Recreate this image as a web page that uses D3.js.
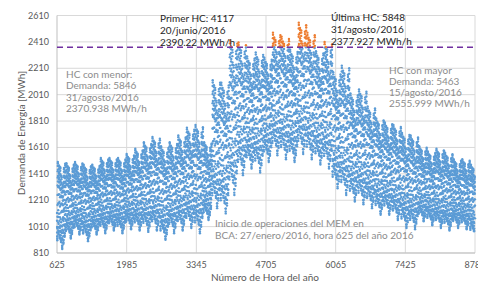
<!DOCTYPE html>
<html>
<head>
<meta charset="utf-8">
<script src="https://cdn.jsdelivr.net/npm/d3@7"></script>
<style>
  body { margin: 0; background: #fff; }
  text { font-family: Lato, "Open Sans", sans-serif; }
</style>
</head>
<body>
<svg id="chart" width="478" height="282"></svg>
<script>
// axis ticks
var xTicks = [625, 1985, 3345, 4705, 6065, 7425, 8785];
var yTicks = [810, 1010, 1210, 1410, 1610, 1810, 2010, 2210, 2410, 2610];

// weekly envelope (weeks starting at hour 625)
var weekPeak = [1500, 1490, 1500, 1480, 1480, 1530, 1530, 1530, 1560, 1600,
                1650, 1690, 1620, 1650, 1700, 1760, 1780, 1650, 2120, 2100,
                2420, 2405, 2300, 2330, 2290, 2480, 2450, 2350, 2556, 2480,
                2340, 2410, 2180, 2230, 2020, 2050, 1920, 1830, 1800, 1780,
                1720, 1700, 1620, 1580, 1600, 1570, 1520, 1520, 1480];
var weekTrough = [840, 920, 950, 900, 950, 960, 980, 960, 990, 980,
                  970, 980, 910, 960, 980, 1000, 960, 1060, 1150, 1110,
                  1250, 1400, 1450, 1420, 1500, 1550, 1520, 1500, 1560, 1520,
                  1480, 1450, 1300, 1250, 1200, 1180, 1150, 1100, 1100, 1060,
                  1000, 990, 1050, 1020, 1000, 980, 1000, 990, 930];

// typical daily shape (hour 0..23), day-of-week peak factors and night lift (Sun..Sat)
var hourShape = [0.35, 0.25, 0.17, 0.10, 0.05, 0.02, 0.00, 0.05, 0.15, 0.30, 0.45, 0.58,
                 0.70, 0.80, 0.88, 0.95, 1.00, 0.98, 0.90, 0.82, 0.75, 0.68, 0.58, 0.47];
var dayFactor = [0.74, 0.93, 0.98, 1.00, 0.96, 0.94, 0.84];
var nightLift = [0.00, 0.06, 0.14, 0.10, 0.17, 0.12, 0.08];

var threshold = 2370;

var margin = {left: 57, right: 3, top: 15.5, bottom: 29};
var W = 478, H = 282;

var svg = d3.select('#chart');

var x = d3.scaleLinear().domain([625, 8785]).range([margin.left, W - margin.right]);
var y = d3.scaleLinear().domain([810, 2610]).range([H - margin.bottom, margin.top]);

// gridlines
svg.append('g')
    .selectAll('line')
    .data(yTicks)
    .enter().append('line')
    .attr('x1', margin.left).attr('x2', W - margin.right)
    .attr('y1', function(d){ return y(d); }).attr('y2', function(d){ return y(d); })
    .attr('stroke', '#d9d9d9').attr('stroke-width', 1);

svg.append('g')
    .selectAll('line')
    .data(xTicks)
    .enter().append('line')
    .attr('x1', function(d){ return x(d); }).attr('x2', function(d){ return x(d); })
    .attr('y1', margin.top).attr('y2', H - margin.bottom)
    .attr('stroke', function(d, i){ return i === 0 ? '#bfbfbf' : '#d9d9d9'; })
    .attr('stroke-width', 1);

svg.append('line')
    .attr('x1', margin.left).attr('x2', W - margin.right)
    .attr('y1', y(810)).attr('y2', y(810))
    .attr('stroke', '#bfbfbf');

// build the hourly points
var points = [];
for (var h = 625; h <= 8785; h++) {
    var w = Math.min(Math.floor((h - 625) / 168), weekPeak.length - 1);
    var hod = (h - 1) % 24;
    var dow = (Math.floor((h - 1) / 24) + 5) % 7; // 1 Jan 2016 was a Friday
    var lo = weekTrough[w], hi = weekPeak[w];
    var v = lo + (hi - lo) * (nightLift[dow] + (dayFactor[dow] - nightLift[dow]) * hourShape[hod]);
    points.push({h: h, v: v});
}

svg.append('g')
    .selectAll('circle')
    .data(points.filter(function(p){ return p.v <= threshold; }))
    .enter().append('circle')
    .attr('cx', function(p){ return x(p.h); })
    .attr('cy', function(p){ return y(p.v); })
    .attr('r', 1.2)
    .attr('fill', '#5b9bd5');

svg.append('g')
    .selectAll('circle')
    .data(points.filter(function(p){ return p.v > threshold; }))
    .enter().append('circle')
    .attr('cx', function(p){ return x(p.h); })
    .attr('cy', function(p){ return y(p.v); })
    .attr('r', 1.2)
    .attr('fill', '#ed7d31');

// threshold line
svg.append('line')
    .attr('x1', margin.left).attr('x2', W - margin.right)
    .attr('y1', y(threshold)).attr('y2', y(threshold))
    .attr('stroke', '#7030a0').attr('stroke-width', 1.5)
    .style('stroke-dasharray', '6,4');

// tick labels
svg.append('g')
    .selectAll('text')
    .data(yTicks)
    .enter().append('text')
    .attr('x', margin.left - 8)
    .attr('y', function(d){ return y(d) + 3; })
    .style('text-anchor', 'end')
    .style('font-size', '9px')
    .attr('fill', '#595959')
    .text(function(d){ return d; });

svg.append('g')
    .selectAll('text')
    .data(xTicks)
    .enter().append('text')
    .attr('x', function(d){ return x(d); })
    .attr('y', H - margin.bottom + 15)
    .style('text-anchor', 'middle')
    .style('font-size', '9px')
    .attr('fill', '#595959')
    .text(function(d){ return d; });

// axis titles
svg.append('text')
    .attr('x', 265).attr('y', 281)
    .style('text-anchor', 'middle')
    .style('font-size', '10px')
    .attr('fill', '#595959')
    .text('Número  de Hora del año');

svg.append('text')
    .attr('transform', 'translate(25,133) rotate(-90)')
    .style('text-anchor', 'middle')
    .style('font-size', '10px')
    .attr('fill', '#595959')
    .text('Demanda de Energía [MWh]');

// annotations
function note(lines, x0, y0, step, color) {
    var t = svg.append('text')
        .attr('x', x0).attr('y', y0)
        .style('font-size', '10px')
        .attr('fill', color);
    lines.forEach(function(s, i){
        t.append('tspan').attr('x', x0).attr('y', y0 + i * step).text(s);
    });
}

note(['Primer HC: 4117', '20/junio/2016', '2390.22 MWh/h'], 160, 22, 12, '#262626');
note(['Última HC: 5848', '31/agosto/2016', '2377.927 MWh/h'], 331, 21, 11.8, '#262626');
note(['HC con menor:', 'Demanda: 5846', '31/agosto/2016', '2370.938 MWh/h'], 66, 78, 11.3, '#8c8c8c');
note(['HC con mayor', 'Demanda: 5463', '15/agosto/2016', '2555.999 MWh/h'], 389, 74, 11, '#8c8c8c');
note(['Inicio de operaciones del MEM en', 'BCA:  27/enero/2016, hora 625 del año 2016'], 215, 227, 11.5, '#8c8c8c');
</script>
</body>
</html>
